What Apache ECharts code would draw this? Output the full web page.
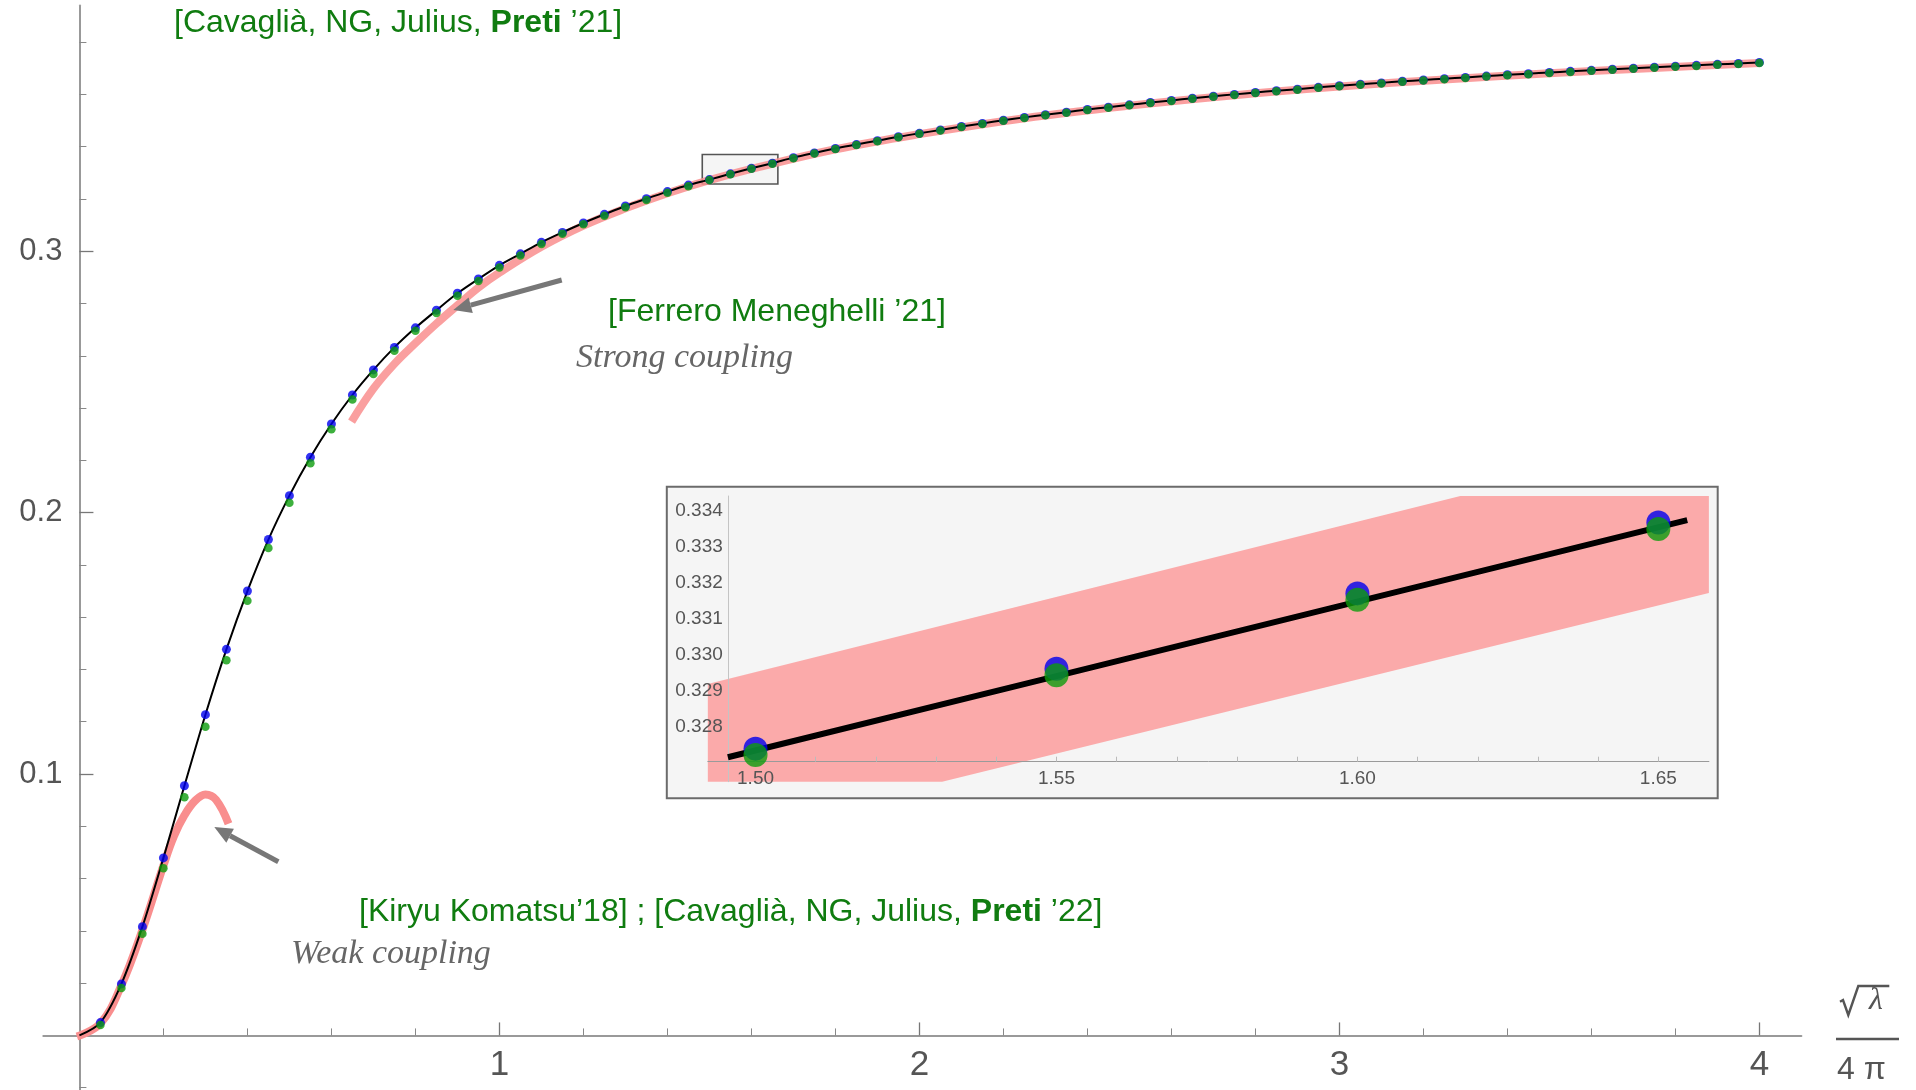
<!DOCTYPE html>
<html>
<head>
<meta charset="utf-8">
<script src="https://cdn.jsdelivr.net/npm/echarts@6/dist/echarts.min.js"></script>
<style>
  html, body { margin: 0; padding: 0; background: #ffffff; }
  #chart { width: 1916px; height: 1090px; }
</style>
</head>
<body>
<div id="chart"></div>
<script>
// Coupling sample points, x = sqrt(lambda) / (4 pi)
const sampleX = [0.05,0.10,0.15,0.20,0.25,0.30,0.35,0.40,0.45,0.50,0.55,0.60,0.65,0.70,0.75,0.80,0.85,0.90,0.95,1.00,
  1.05,1.10,1.15,1.20,1.25,1.30,1.35,1.40,1.45,1.50,1.55,1.60,1.65,1.70,1.75,1.80,1.85,1.90,1.95,2.00,
  2.05,2.10,2.15,2.20,2.25,2.30,2.35,2.40,2.45,2.50,2.55,2.60,2.65,2.70,2.75,2.80,2.85,2.90,2.95,3.00,
  3.05,3.10,3.15,3.20,3.25,3.30,3.35,3.40,3.45,3.50,3.55,3.60,3.65,3.70,3.75,3.80,3.85,3.90,3.95,4.00];

// Numerical results, first set (blue points; also the black interpolating curve)
const blueVals = [0.0049,0.0197,0.0416,0.0679,0.0955,0.1227,0.1477,0.1700,0.1897,0.2065,0.2212,0.2339,0.2450,0.2546,0.2632,0.2707,0.2774,0.2839,0.2894,0.2946,
  0.2990,0.3034,0.3072,0.3108,0.3141,0.3173,0.3201,0.3228,0.3253,0.32739,0.32961,0.33171,0.33368,0.3358,0.3376,0.3393,0.3408,0.3423,0.3438,0.3451,
  0.3464,0.3477,0.3489,0.3501,0.3512,0.3522,0.3532,0.3542,0.3551,0.3560,0.3569,0.3577,0.3585,0.3593,0.3600,0.3607,0.3614,0.3620,0.3627,0.3633,
  0.3639,0.3644,0.3650,0.3655,0.3660,0.3665,0.3670,0.3675,0.3679,0.3684,0.3688,0.3692,0.3696,0.3700,0.3704,0.3708,0.3711,0.3715,0.3718,0.3722];

// Numerical results, second set (green points)
const greenVals = [0.0040,0.0181,0.0389,0.0640,0.0911,0.1181,0.1435,0.1663,0.1865,0.2038,0.2189,0.2319,0.2433,0.2530,0.2619,0.2696,0.2764,0.2830,0.2886,0.2938,
  0.2984,0.3028,0.3067,0.3103,0.3136,0.3168,0.3196,0.3224,0.3249,0.32721,0.32943,0.33153,0.33350,0.3356,0.3374,0.3391,0.3406,0.3421,0.3436,0.3449,
  0.3462,0.3475,0.3487,0.3499,0.3510,0.3520,0.3530,0.3540,0.3549,0.3558,0.3567,0.3575,0.3583,0.3591,0.3598,0.3605,0.3612,0.3618,0.3625,0.3631,
  0.3637,0.3642,0.3648,0.3653,0.3658,0.3663,0.3668,0.3673,0.3677,0.3682,0.3686,0.3690,0.3694,0.3698,0.3702,0.3706,0.3709,0.3713,0.3716,0.3720];

// Weak-coupling expansion
const weakX = [-0.006,0.05,0.10,0.15,0.20,0.225,0.25,0.275,0.30,0.325,0.355];
const weakY = [-0.0004,0.0046,0.0192,0.0404,0.0650,0.0762,0.0842,0.0897,0.0922,0.0902,0.0810];

// Strong-coupling expansion
const strongX = [0.648,0.70,0.75,0.80,0.85,0.90,0.95,1.00,1.10,1.20,1.30,1.40,1.50,1.60,1.80,2.00,2.25,2.50,2.75,3.00,3.25,3.50,3.75,4.00];
const strongY = [0.2348,0.2474,0.2569,0.2648,0.2723,0.2793,0.2861,0.2918,0.3017,0.3098,0.3164,0.3222,0.3272,0.3315,0.3390,0.3448,0.3509,0.3557,0.3597,0.3630,0.3657,0.3681,0.3701,0.3720];

// Zoom window marked on the main curve
const zoomBoxX = [1.483, 1.663];
const zoomBoxY = [0.3257, 0.3370];

// Inset: curve segment and strong-coupling band
const insetCurveX = [1.4954, 1.55, 1.60, 1.6548];
const insetCurveY = [0.32715, 0.32941, 0.33148, 0.33375];
const bandX = [1.49207, 1.49207, 1.6171, 1.6584, 1.6584, 1.5310];
const bandY = [0.32647, 0.32919, 0.33442, 0.33442, 0.33172, 0.32647];

// Tick positions
const xMajorTicks = [1, 2, 3, 4];
const xMinorTicks = [0.2,0.4,0.6,0.8,1.2,1.4,1.6,1.8,2.2,2.4,2.6,2.8,3.2,3.4,3.6,3.8];
const yMajorTicks = [0.1, 0.2, 0.3];
const yMinorTicks = [-0.02,0.02,0.04,0.06,0.08,0.12,0.14,0.16,0.18,0.22,0.24,0.26,0.28,0.32,0.34,0.36,0.38];
const insetXLabels = [1.50, 1.55, 1.60, 1.65];
const insetXTicks = [1.50,1.51,1.52,1.53,1.54,1.55,1.56,1.57,1.58,1.59,1.60,1.61,1.62,1.63,1.64,1.65];
const insetYLabels = [0.328, 0.329, 0.330, 0.331, 0.332, 0.333, 0.334];

const zip = (xs, ys) => xs.map((x, i) => [x, ys[i]]);

const SANS = 'Liberation Sans, Arial, Helvetica, sans-serif';
const SERIF = 'Liberation Serif, Times New Roman, serif';
const GREEN_TEXT = '#107c10';
const PINK = '#f98e8e';
const AXIS_GRAY = '#999999';
const LABEL_GRAY = '#555555';

// Main plot frame: axes cross at the origin, inside the plotted range
const MAIN = { left: 43.3, top: 5.5, width: 1758.1, height: 1084.3, xMin: -0.086, xMax: 4.10, yMin: -0.0208, yMax: 0.394 };
const xAxisShift = -MAIN.height * (0 - MAIN.yMin) / (MAIN.yMax - MAIN.yMin);  // lift x-axis to y = 0
const yAxisShift = -MAIN.width * (0 - MAIN.xMin) / (MAIN.xMax - MAIN.xMin);   // move y-axis to x = 0

const chart = echarts.init(document.getElementById('chart'), null, { renderer: 'canvas' });

const mainX = { gridIndex: 0, type: 'value', min: MAIN.xMin, max: MAIN.xMax, position: 'bottom', offset: xAxisShift, splitLine: { show: false } };
const mainY = { gridIndex: 0, type: 'value', min: MAIN.yMin, max: MAIN.yMax, position: 'left', offset: yAxisShift, splitLine: { show: false } };

const option = {
  animation: false,
  backgroundColor: '#ffffff',
  grid: [
    { left: MAIN.left, top: MAIN.top, width: MAIN.width, height: MAIN.height, containLabel: false, outerBoundsMode: 'none' },
    { left: 707.8, top: 496, width: 1001.1, height: 285.7, containLabel: false, outerBoundsMode: 'none' }
  ],
  xAxis: [
    Object.assign({}, mainX, {
      axisLine: { onZero: false, lineStyle: { color: AXIS_GRAY, width: 2 } },
      axisTick: { inside: true, length: 13, customValues: xMajorTicks, lineStyle: { color: '#777777', width: 1.3 } },
      axisLabel: { customValues: xMajorTicks, margin: 12, fontSize: 35, fontFamily: SANS, color: LABEL_GRAY }
    }),
    Object.assign({}, mainX, {
      axisLine: { onZero: false, show: false },
      axisTick: { inside: true, length: 7, customValues: xMinorTicks, lineStyle: { color: '#888888', width: 1 } },
      axisLabel: { show: false }
    }),
    {
      gridIndex: 1, type: 'value', min: 1.49207, max: 1.6584, offset: -20, z: 3,
      splitLine: { show: false },
      axisLine: { lineStyle: { color: '#9a9a9a', width: 1 } },
      axisTick: { inside: true, length: 5, customValues: insetXTicks, lineStyle: { color: '#bbbbbb', width: 1 } },
      axisLabel: { customValues: insetXLabels, margin: 8, fontSize: 19, fontFamily: SANS, color: LABEL_GRAY,
        formatter: v => Number(v).toFixed(2) }
    }
  ],
  yAxis: [
    Object.assign({}, mainY, {
      axisLine: { onZero: false, lineStyle: { color: AXIS_GRAY, width: 2 } },
      axisTick: { inside: true, length: 14, customValues: yMajorTicks, lineStyle: { color: '#777777', width: 1.3 } },
      axisLabel: { customValues: yMajorTicks, margin: 17, fontSize: 31, fontFamily: SANS, color: LABEL_GRAY,
        formatter: v => Number(v).toFixed(1) }
    }),
    Object.assign({}, mainY, {
      axisLine: { onZero: false, show: false },
      axisTick: { inside: true, length: 7, customValues: yMinorTicks, lineStyle: { color: '#888888', width: 1 } },
      axisLabel: { show: false }
    }),
    {
      gridIndex: 1, type: 'value', min: 0.32647, max: 0.33442, offset: -20, z: 3,
      splitLine: { show: false },
      axisLine: { lineStyle: { color: '#c4c4c4', width: 1 } },
      axisTick: { show: false },
      axisLabel: { customValues: insetYLabels, margin: 5, fontSize: 19, fontFamily: SANS, color: LABEL_GRAY,
        formatter: v => Number(v).toFixed(3) }
    }
  ],
  series: [
    {
      name: 'weak coupling', type: 'line', xAxisIndex: 0, yAxisIndex: 0, z: 2,
      data: zip(weakX, weakY), smooth: 0.4, symbol: 'none',
      lineStyle: { color: PINK, width: 8, cap: 'butt' }
    },
    {
      name: 'strong coupling', type: 'line', xAxisIndex: 0, yAxisIndex: 0, z: 2,
      data: zip(strongX, strongY), smooth: 0.4, symbol: 'none',
      lineStyle: { color: PINK, width: 8, cap: 'butt', opacity: 0.85 }
    },
    {
      name: 'zoom window', type: 'line', xAxisIndex: 0, yAxisIndex: 0, z: 3,
      data: [], silent: true,
      markArea: {
        silent: true,
        itemStyle: { color: 'rgba(243,243,243,0.8)', borderColor: '#555555', borderWidth: 1.6 },
        data: [[{ coord: [zoomBoxX[0], zoomBoxY[1]] }, { coord: [zoomBoxX[1], zoomBoxY[0]] }]]
      }
    },
    {
      name: 'curve', type: 'line', xAxisIndex: 0, yAxisIndex: 0, z: 4,
      data: [[0, 0]].concat(zip(sampleX, blueVals)), smooth: 0.3, symbol: 'none',
      lineStyle: { color: '#000000', width: 2 }
    },
    {
      name: 'set A', type: 'scatter', xAxisIndex: 0, yAxisIndex: 0, z: 5,
      data: zip(sampleX, blueVals), symbolSize: 9, itemStyle: { color: '#0000ee' }
    },
    {
      name: 'set B', type: 'scatter', xAxisIndex: 0, yAxisIndex: 0, z: 6,
      data: zip(sampleX, greenVals), symbolSize: 8.5, itemStyle: { color: '#0c9c0c' }
    },
    // ---- inset ----
    {
      name: 'band', type: 'custom', xAxisIndex: 2, yAxisIndex: 2, z: 1, silent: true,
      data: [[bandX[0], bandY[0]]],
      encode: { x: 0, y: 1 },
      renderItem: (params, api) => ({
        type: 'polygon',
        shape: { points: bandX.map((x, i) => api.coord([x, bandY[i]])) },
        style: { fill: '#fbaaaa' }
      })
    },
    {
      name: 'inset curve', type: 'line', xAxisIndex: 2, yAxisIndex: 2, z: 4,
      data: zip(insetCurveX, insetCurveY), symbol: 'none',
      lineStyle: { color: '#000000', width: 6, cap: 'butt' }
    },
    {
      name: 'inset A', type: 'scatter', xAxisIndex: 2, yAxisIndex: 2, z: 5, clip: true,
      data: zip(sampleX, blueVals), symbolSize: 24, itemStyle: { color: '#0000ee' }
    },
    {
      name: 'inset B', type: 'scatter', xAxisIndex: 2, yAxisIndex: 2, z: 6, clip: true,
      data: zip(sampleX, greenVals), symbolSize: 24, itemStyle: { color: '#0c9c0c' }
    }
  ],
  graphic: [
    // inset frame
    { type: 'rect', z: -1, silent: true,
      shape: { x: 666.8, y: 486.7, width: 1050.9, height: 311.6 },
      style: { fill: '#f5f5f5', stroke: '#6b6b6b', lineWidth: 2 } },

    // annotations
    { type: 'text', z: 10, x: 174, y: 23, silent: true,
      style: { text: '[Cavaglià, NG, Julius, {b|Preti} ’21]', fill: GREEN_TEXT, fontSize: 32, fontFamily: SANS,
        verticalAlign: 'middle', align: 'left',
        rich: { b: { fontWeight: 'bold', fontSize: 32, fontFamily: SANS, fill: GREEN_TEXT } } } },
    { type: 'text', z: 10, x: 608, y: 312, silent: true,
      style: { text: '[Ferrero Meneghelli ’21]', fill: GREEN_TEXT, fontSize: 32, fontFamily: SANS,
        verticalAlign: 'middle', align: 'left' } },
    { type: 'text', z: 10, x: 576, y: 358, silent: true,
      style: { text: 'Strong coupling', fill: '#666666', fontSize: 34, fontStyle: 'italic', fontFamily: SERIF,
        verticalAlign: 'middle', align: 'left' } },
    { type: 'text', z: 10, x: 359, y: 912, silent: true,
      style: { text: '[Kiryu Komatsu’18] ; [Cavaglià, NG, Julius, {b|Preti} ’22]', fill: GREEN_TEXT, fontSize: 32, fontFamily: SANS,
        verticalAlign: 'middle', align: 'left',
        rich: { b: { fontWeight: 'bold', fontSize: 32, fontFamily: SANS, fill: GREEN_TEXT } } } },
    { type: 'text', z: 10, x: 291, y: 954, silent: true,
      style: { text: 'Weak coupling', fill: '#666666', fontSize: 34, fontStyle: 'italic', fontFamily: SERIF,
        verticalAlign: 'middle', align: 'left' } },

    // arrows
    { type: 'line', z: 10, silent: true, shape: { x1: 561.7, y1: 280, x2: 470.7, y2: 305.2 },
      style: { stroke: '#777777', lineWidth: 5 } },
    { type: 'polygon', z: 10, silent: true, shape: { points: [[453.3, 310], [472.8, 312.9], [468.6, 297.5]] },
      style: { fill: '#777777' } },
    { type: 'line', z: 10, silent: true, shape: { x1: 278.3, y1: 861.7, x2: 230.1, y2: 835.7 },
      style: { stroke: '#777777', lineWidth: 5 } },
    { type: 'polygon', z: 10, silent: true, shape: { points: [[214.3, 827.1], [233.9, 828.7], [226.3, 842.7]] },
      style: { fill: '#777777' } },

    // axis name: sqrt(lambda) / (4 pi)
    { type: 'polyline', z: 10, silent: true,
      shape: { points: [[1840, 1001.7], [1843, 1000], [1848.3, 1015], [1858.3, 986], [1889.3, 986]] },
      style: { stroke: LABEL_GRAY, lineWidth: 2.4, fill: null } },
    { type: 'text', z: 10, x: 1876, y: 1001, silent: true,
      style: { text: 'λ', fill: LABEL_GRAY, fontSize: 32, fontStyle: 'italic', fontFamily: SERIF,
        verticalAlign: 'middle', align: 'center' } },
    { type: 'line', z: 10, silent: true, shape: { x1: 1836, y1: 1039, x2: 1899, y2: 1039 },
      style: { stroke: LABEL_GRAY, lineWidth: 2.5 } },
    { type: 'text', z: 10, x: 1837, y: 1070, silent: true,
      style: { text: '4 π', fill: LABEL_GRAY, fontSize: 32, fontFamily: SANS,
        verticalAlign: 'middle', align: 'left' } }
  ]
};

chart.setOption(option);
</script>
</body>
</html>
